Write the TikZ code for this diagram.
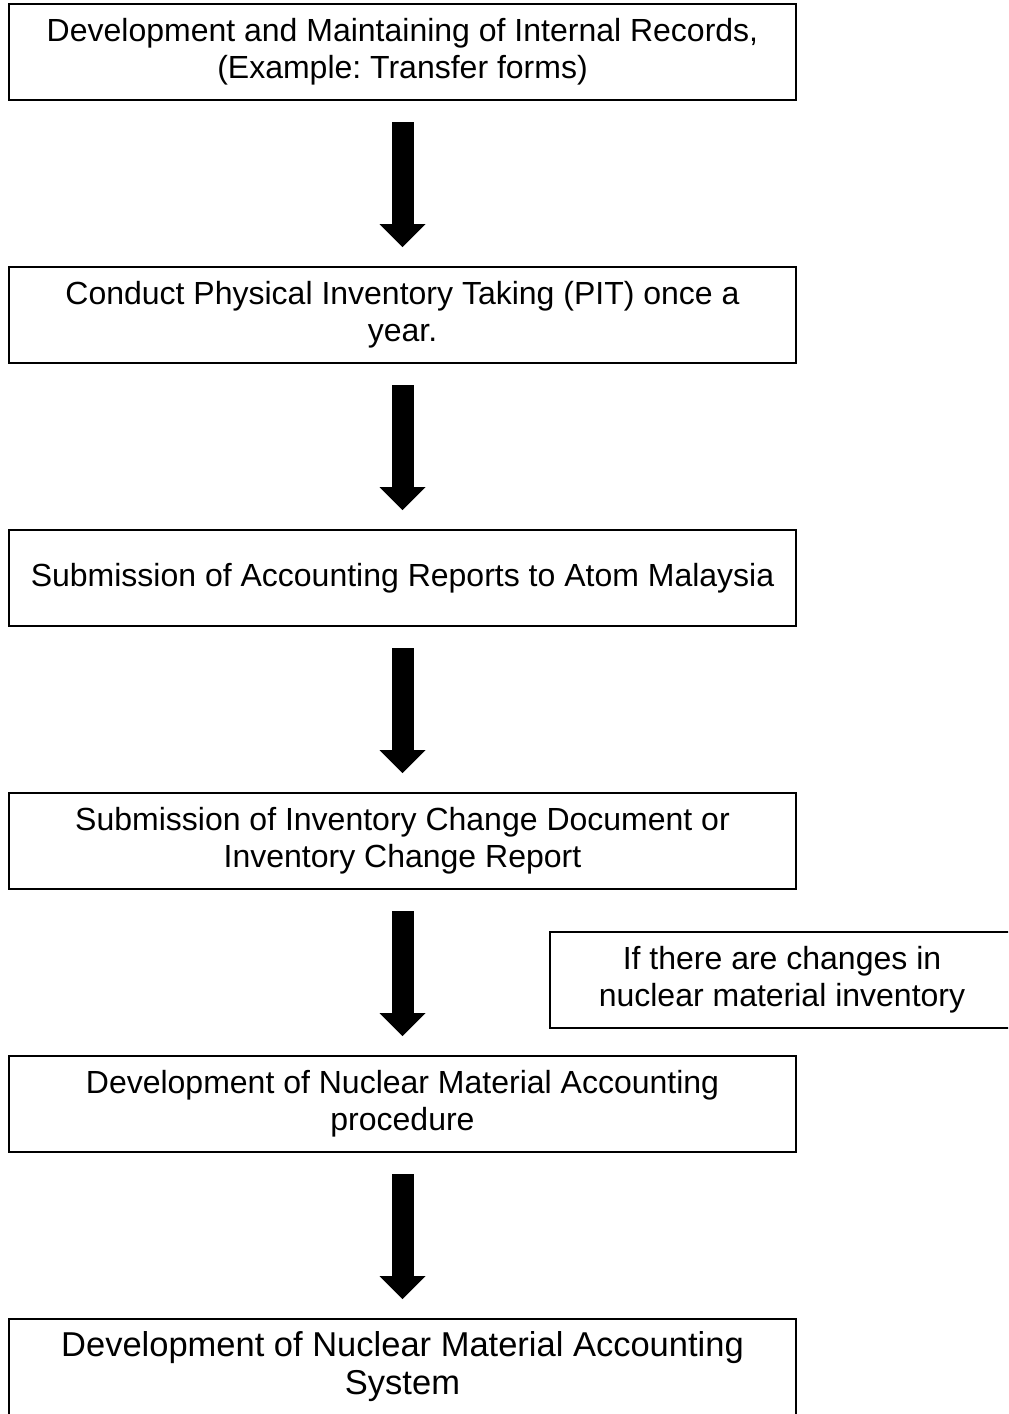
\documentclass[tikz,border=0pt]{standalone}
\usepackage{fontspec}
\setmainfont{Liberation Sans}
\usetikzlibrary{arrows.meta,positioning}
\frenchspacing

\begin{document}
\begin{tikzpicture}[
  node distance=82.5pt,
  box/.style={rectangle, draw=black, line width=1pt, align=center, inner sep=0pt, minimum width=393.5pt, minimum height=48pt, font=\fontsize{16pt}{18.5pt}\selectfont},
  arrow/.style={-{Triangle[width=23pt,length=11.5pt,line width=0pt]}, line width=11pt, shorten <=10.5pt, shorten >=9.5pt}
]
\useasboundingbox (0,0) rectangle (504pt,-707pt);
\clip (0,0) rectangle (504pt,-707pt);

\node[box] (records) at (201.25pt,-26pt) {Development and Maintaining of Internal Records,\\(Example: Transfer forms)};
\node[box, below=of records] (pit) {Conduct Physical Inventory Taking (PIT) once a\\year.};
\node[box, below=of pit] (reports) {Submission of Accounting Reports to Atom Malaysia};
\node[box, below=of reports] (icd) {Submission of Inventory Change Document or\\Inventory Change Report};
\node[box, below=of icd] (procedure) {Development of Nuclear Material Accounting\\procedure};
\node[box, below=of procedure, font=\fontsize{17.25pt}{19pt}\selectfont] (system) {Development of Nuclear Material Accounting\\System};

\node[box, minimum width=232pt] (changes) at (391pt,-490pt) {If there are changes in\\nuclear material inventory};

\draw[arrow] (records) -- (pit);
\draw[arrow] (pit) -- (reports);
\draw[arrow] (reports) -- (icd);
\draw[arrow] (icd) -- (procedure);
\draw[arrow] (procedure) -- (system);

\end{tikzpicture}
\end{document}
